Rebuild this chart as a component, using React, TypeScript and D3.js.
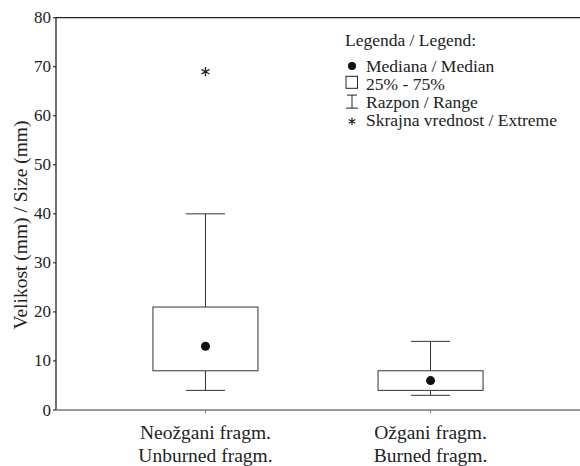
import React from 'react';
import * as d3 from 'd3';

const categories = ['Neožgani fragm.|Unburned fragm.', 'Ožgani fragm.|Burned fragm.'];
const q1 = [8, 4];
const q3 = [21, 8];
const medians = [13, 6];
const whiskerLow = [4, 3];
const whiskerHigh = [40, 14];
const extremes = [[69], []] as number[][];
const yTicks = [0, 10, 20, 30, 40, 50, 60, 70, 80];
const legendTitle = 'Legenda / Legend:';
const legendItems = ['Mediana / Median', '25% - 75%', 'Razpon / Range', 'Skrajna vrednost / Extreme'];

const FONT = 'Liberation Serif';
const W = 580, H = 466;
const left = 56, right = 580, top = 17.7, bottom = 410;

// serif text: position carried by the tspan
const T: React.FC<{ x: number; y: number; size: number; anchor?: string; transform?: string; children: string }> =
  ({ x, y, size, anchor = 'start', transform, children }) => (
    <text transform={transform} textAnchor={anchor} fontFamily={FONT} fontSize={size} fill="#222">
      <tspan x={x} y={y}>{children}</tspan>
    </text>
  );

export default function App() {
  const x = d3.scalePoint<string>().domain(categories).range([left, right]).padding(0.664);
  const y = d3.scaleLinear().domain([0, 80]).range([bottom, top]);
  const fmt = d3.format('d');

  const boxW = 105, capW = 39;
  const stroke = '#333';
  const star = (size: number) => d3.symbol(d3.symbolAsterisk, size)()!;

  const rowY = (k: number) => 71.5 + k * 18.3;
  const sx = 352, tx = 366;
  const ry = rowY(2);

  return (
    <svg width={W} height={H} style={{ position: 'absolute', left: 0, top: 0, background: 'white' }}>
      {/* frame */}
      <line x1={left} x2={right} y1={top} y2={top} stroke="#222" strokeWidth={1.2} />
      <line x1={left} x2={left} y1={top} y2={bottom} stroke="#111" strokeWidth={1.2} />
      <line x1={left} x2={right} y1={bottom} y2={bottom} stroke="#777" strokeWidth={1.6} />

      {/* y ticks */}
      {yTicks.map(t => (
        <g key={t}>
          <line x1={left - 3} x2={left} y1={y(t)} y2={y(t)} stroke="#111" />
          <T x={left - 5} y={y(t) + 5.5} anchor="end" size={17}>{fmt(t)}</T>
        </g>
      ))}

      {/* x ticks and labels */}
      {categories.map(c => (
        <g key={c}>
          <line x1={x(c)} x2={x(c)} y1={bottom} y2={bottom + 3} stroke="#777" />
          <text textAnchor="middle" fontFamily={FONT} fontSize={19.5} fill="#222">
            {c.split('|').map((ln, i) => (
              <tspan key={i} x={x(c)} y={439 + i * 22.5}>{ln}</tspan>
            ))}
          </text>
        </g>
      ))}

      {/* y label */}
      <T transform="rotate(-90)" x={-225} y={27} anchor="middle" size={19.5}>Velikost (mm) / Size (mm)</T>

      {/* boxes */}
      {categories.map((c, i) => {
        const cx = x(c)!;
        return (
          <g key={c}>
            <line x1={cx} x2={cx} y1={y(q3[i])} y2={y(whiskerHigh[i])} stroke={stroke} />
            <line x1={cx} x2={cx} y1={y(q1[i])} y2={y(whiskerLow[i])} stroke={stroke} />
            {[whiskerHigh[i], whiskerLow[i]].map((v, k) => (
              <line key={k} x1={cx - capW / 2} x2={cx + capW / 2} y1={y(v)} y2={y(v)} stroke={stroke} />
            ))}
            <rect x={cx - boxW / 2} width={boxW} y={y(q3[i])} height={y(q1[i]) - y(q3[i])} fill="white" stroke={stroke} />
            <circle cx={cx} cy={y(medians[i])} r={4.5} fill="#111" />
            {extremes[i].map((v, k) => (
              <path key={k} transform={`translate(${cx},${y(v)})`} d={star(60)} stroke="#222" strokeWidth={1.3} fill="none" />
            ))}
          </g>
        );
      })}

      {/* legend */}
      <T x={345} y={46} size={17.5}>{legendTitle}</T>
      {legendItems.map((t, k) => (
        <T key={t} x={tx} y={rowY(k)} size={17.5}>{t}</T>
      ))}
      <circle cx={sx} cy={rowY(0) - 5.5} r={4} fill="#111" />
      <rect x={sx - 6} y={rowY(1) - 13.5} width={11.5} height={12} fill="white" stroke="#222" />
      <path d={`M${sx - 5},${ry - 13}H${sx + 5}M${sx},${ry - 13}V${ry}M${sx - 6},${ry}H${sx + 6}`} stroke="#222" fill="none" />
      <path transform={`translate(${sx},${rowY(3) - 5})`} d={star(40)} stroke="#222" strokeWidth={1.2} fill="none" />
    </svg>
  );
}
